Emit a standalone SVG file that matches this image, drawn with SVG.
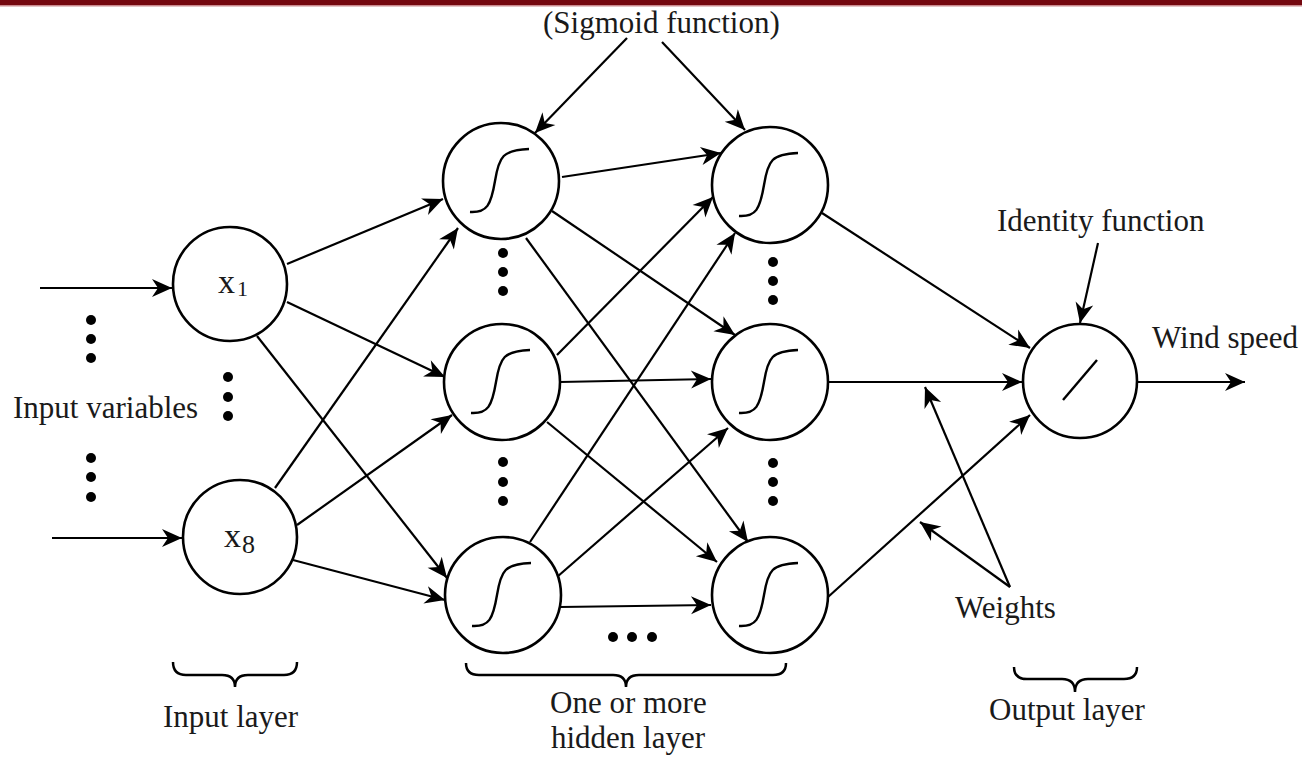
<svg xmlns="http://www.w3.org/2000/svg" width="1302" height="757" viewBox="0 0 1302 757">
<style>
.n{fill:#fff;stroke:#000;stroke-width:2.6}
.g{fill:none;stroke:#000;stroke-width:2.4}
.c line{stroke:#000;stroke-width:2.2;marker-end:url(#ah)}
.t{font-family:"Liberation Serif","Times New Roman",serif;font-size:31px;fill:#1a1a1a}
.d{fill:#000}
.b{fill:none;stroke:#000;stroke-width:2.5}
</style>
<defs>
<marker id="ah" markerUnits="userSpaceOnUse" markerWidth="26" markerHeight="22" viewBox="-22 -11 26 22" refX="0" refY="0" orient="auto">
<path d="M-20,-9 L0,0 L-20,9 L-14,0 Z" fill="#000"/>
</marker>
<path id="sig" d="M-31,31 C-14,32 -10,24 -6,0 C-2,-25 2,-31 28,-32"/>
</defs>
<rect x="0" y="0" width="1302" height="5" fill="#74080f"/>
<rect x="0" y="5" width="1302" height="1.5" fill="#c98a8e"/>

<g class="c" id="connectors">
<line x1="40" y1="288" x2="172" y2="288"/>
<line x1="52" y1="538" x2="182" y2="538"/>
<line x1="287" y1="264" x2="443" y2="199"/>
<line x1="287" y1="302" x2="445" y2="377"/>
<line x1="257" y1="336" x2="447" y2="578"/>
<line x1="275" y1="488" x2="458" y2="228"/>
<line x1="297" y1="525" x2="452" y2="415"/>
<line x1="293" y1="560" x2="445" y2="600"/>
<line x1="562" y1="177" x2="721" y2="153"/>
<line x1="552" y1="211" x2="735" y2="335"/>
<line x1="526" y1="238" x2="748" y2="542"/>
<line x1="557" y1="355" x2="713" y2="197"/>
<line x1="560" y1="382" x2="711" y2="379"/>
<line x1="547" y1="422" x2="717" y2="562"/>
<line x1="530" y1="542" x2="735" y2="233"/>
<line x1="557" y1="577" x2="728" y2="428"/>
<line x1="560" y1="607" x2="711" y2="605"/>
<line x1="822" y1="213" x2="1030" y2="348"/>
<line x1="828" y1="382" x2="1022" y2="382"/>
<line x1="828" y1="597" x2="1030" y2="415"/>
<line x1="1137" y1="382" x2="1245" y2="382"/>
<line x1="627" y1="38" x2="535" y2="133"/>
<line x1="662" y1="42" x2="745" y2="130"/>
<line x1="1098" y1="243" x2="1080" y2="323"/>
<line x1="1010" y1="587" x2="925" y2="387"/>
<line x1="1010" y1="587" x2="920" y2="522"/>
</g>

<g id="x1"><circle class="n" cx="230" cy="284" r="57"/><text class="t" x="218" y="293" style="font-size:34px">x</text><text class="t" x="237" y="296" style="font-size:22px">1</text></g>
<g id="x8"><circle class="n" cx="240" cy="537" r="57"/><text class="t" x="224" y="547" style="font-size:34px">x</text><text class="t" x="242" y="553" style="font-size:26px">8</text></g>

<g id="h11"><circle class="n" cx="501" cy="181" r="58"/><use href="#sig" class="g" transform="translate(501,181)"/></g>
<g id="h21"><circle class="n" cx="502" cy="382" r="58"/><use href="#sig" class="g" transform="translate(502,382)"/></g>
<g id="h31"><circle class="n" cx="503" cy="595" r="58"/><use href="#sig" class="g" transform="translate(503,595)"/></g>
<g id="h12"><circle class="n" cx="770" cy="185" r="58"/><use href="#sig" class="g" transform="translate(770,185)"/></g>
<g id="h22"><circle class="n" cx="770" cy="382" r="58"/><use href="#sig" class="g" transform="translate(770,382)"/></g>
<g id="h32"><circle class="n" cx="770" cy="595" r="58"/><use href="#sig" class="g" transform="translate(770,595)"/></g>
<g id="out"><circle class="n" cx="1080" cy="381" r="57"/><line x1="1063" y1="400" x2="1097" y2="360" stroke="#000" stroke-width="2.4"/></g>

<g id="dots">
<circle class="d" cx="91" cy="320" r="5"/><circle class="d" cx="91" cy="339" r="5"/><circle class="d" cx="91" cy="358" r="5"/>
<circle class="d" cx="91" cy="458" r="5"/><circle class="d" cx="91" cy="477" r="5"/><circle class="d" cx="91" cy="497" r="5"/>
<circle class="d" cx="228" cy="377" r="5"/><circle class="d" cx="228" cy="397" r="5"/><circle class="d" cx="228" cy="416" r="5"/>
<circle class="d" cx="503" cy="253" r="5"/><circle class="d" cx="503" cy="272" r="5"/><circle class="d" cx="503" cy="291" r="5"/>
<circle class="d" cx="503" cy="462" r="5"/><circle class="d" cx="503" cy="482" r="5"/><circle class="d" cx="503" cy="501" r="5"/>
<circle class="d" cx="773" cy="262" r="5"/><circle class="d" cx="773" cy="281" r="5"/><circle class="d" cx="773" cy="300" r="5"/>
<circle class="d" cx="773" cy="463" r="5"/><circle class="d" cx="773" cy="482" r="5"/><circle class="d" cx="773" cy="501" r="5"/>
<circle class="d" cx="613" cy="637" r="5"/><circle class="d" cx="632" cy="637" r="5"/><circle class="d" cx="652" cy="637" r="5"/>
</g>

<g id="braces">
<path class="b" d="M173,662 Q173,675 186,675 L222,675 Q235,675 235,687 Q235,675 248,675 L284,675 Q297,675 297,662"/>
<path class="b" d="M466,663 Q466,675 479,675 L613,675 Q626,675 626,687 Q626,675 639,675 L773,675 Q786,675 786,663"/>
<path class="b" d="M1014,667 Q1014,679 1027,679 L1062,679 Q1075,679 1075,692 Q1075,679 1088,679 L1124,679 Q1137,679 1137,667"/>
</g>

<g id="labels">
<text class="t" x="543" y="33">(Sigmoid function)</text>
<text class="t" x="997" y="231">Identity function</text>
<text class="t" x="1152" y="348">Wind speed</text>
<text class="t" x="13" y="418">Input variables</text>
<text class="t" x="955" y="618">Weights</text>
<text class="t" x="163" y="727">Input layer</text>
<text class="t" x="550" y="713">One or more</text>
<text class="t" x="551" y="748">hidden layer</text>
<text class="t" x="989" y="720">Output layer</text>
</g>
</svg>
